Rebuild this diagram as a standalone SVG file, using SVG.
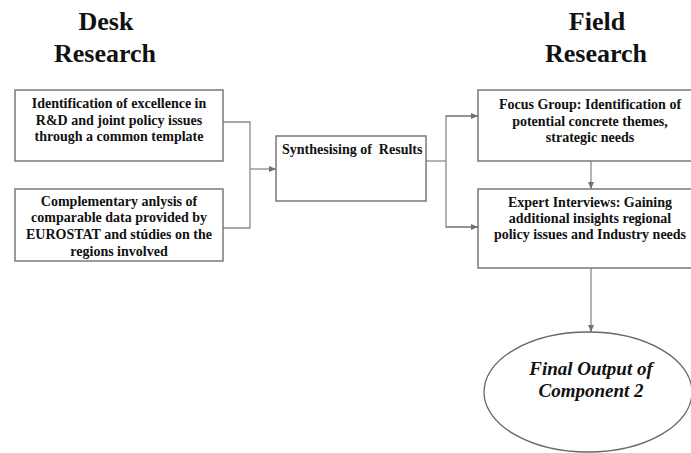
<svg xmlns="http://www.w3.org/2000/svg" width="691" height="453" viewBox="0 0 691 453">
<defs>
<marker id="ah" markerWidth="7" markerHeight="6" refX="7" refY="3" orient="auto" markerUnits="userSpaceOnUse">
<path d="M0,0 L7,3 L0,6 Z" fill="#707070"/>
</marker>
<style>
.box{fill:#fff;stroke:#707070;stroke-width:1.4}
.con{fill:none;stroke:#8a8a8a;stroke-width:1.3}
.t{font-family:"Liberation Serif","Times New Roman",serif;font-weight:bold;font-size:14px;fill:#111;text-anchor:middle}
.h{font-family:"Liberation Serif","Times New Roman",serif;font-weight:bold;font-size:26px;fill:#111;text-anchor:middle}
.e{font-family:"Liberation Serif","Times New Roman",serif;font-weight:bold;font-style:italic;font-size:19px;fill:#111;text-anchor:middle}
</style>
</defs>
<rect width="691" height="453" fill="#fff"/>
<g id="titles">
<text class="h" x="106" y="30">Desk</text>
<text class="h" x="105" y="62">Research</text>
<text class="h" x="597" y="30">Field</text>
<text class="h" x="596" y="62">Research</text>
</g>
<g id="connectors">
<polyline class="con" points="223,122 250,122 250,228 223,228"/>
<line class="con" x1="250" y1="169" x2="276" y2="169" marker-end="url(#ah)"/>
<line class="con" x1="426" y1="161" x2="446" y2="161"/>
<polyline class="con" points="478,116 446,116 446,227 478,227"/>
<line class="con" x1="446" y1="116" x2="478" y2="116" marker-end="url(#ah)"/>
<line class="con" x1="446" y1="227" x2="478" y2="227" marker-end="url(#ah)"/>
<line class="con" x1="591" y1="161" x2="591" y2="189" marker-end="url(#ah)"/>
<line class="con" x1="591" y1="268" x2="591" y2="332" marker-end="url(#ah)"/>
</g>
<g id="desk1">
<rect class="box" x="15" y="90" width="208" height="71"/>
<text class="t" x="119" y="108">Identification of excellence in</text>
<text class="t" x="119" y="125">R&amp;D and joint policy issues</text>
<text class="t" x="119" y="141">through a common template</text>
</g>
<g id="desk2">
<rect class="box" x="15" y="189" width="208" height="72"/>
<text class="t" x="119" y="206">Complementary anlysis of</text>
<text class="t" x="119" y="222">comparable data provided by</text>
<text class="t" x="119" y="239">EUROSTAT and stúdies on the</text>
<text class="t" x="119" y="256">regions involved</text>
</g>
<g id="synth">
<rect class="box" x="276" y="136" width="150" height="65"/>
<text class="t" x="282" y="154" style="text-anchor:start;white-space:pre">Synthesising of  Results</text>
</g>
<g id="focus">
<rect class="box" x="478" y="90" width="225" height="71"/>
<text class="t" x="590" y="109">Focus Group: Identification of</text>
<text class="t" x="590" y="126">potential concrete themes,</text>
<text class="t" x="590" y="142">strategic needs</text>
</g>
<g id="expert">
<rect class="box" x="478" y="189" width="225" height="79"/>
<text class="t" x="590" y="207">Expert Interviews: Gaining</text>
<text class="t" x="590" y="223">additional insights regional</text>
<text class="t" x="590" y="239">policy issues and Industry needs</text>
</g>
<g id="output">
<ellipse cx="588" cy="392" rx="104" ry="60" fill="#fff" stroke="#666" stroke-width="1.3"/>
<text class="e" x="591" y="375">Final Output of</text>
<text class="e" x="591" y="397">Component 2</text>
</g>
</svg>
